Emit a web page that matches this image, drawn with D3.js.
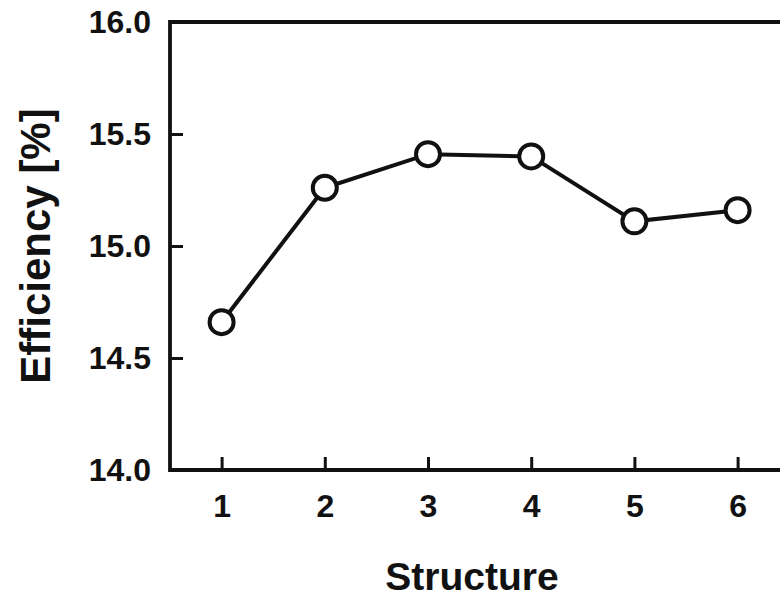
<!DOCTYPE html>
<html>
<head>
<meta charset="utf-8">
<script src="https://cdn.jsdelivr.net/npm/d3@7"></script>
<style>
  html, body { margin: 0; padding: 0; background: #fff; }
  svg { display: block; font-family: "Liberation Sans", Arial, sans-serif; font-weight: bold; }
</style>
</head>
<body>
<svg id="chart" width="780" height="600"></svg>
<script>
// Cell efficiency for each structure variant
const structures = [1, 2, 3, 4, 5, 6];
const efficiency = [14.66, 15.26, 15.41, 15.40, 15.11, 15.16];
const yTicks = [14.0, 14.5, 15.0, 15.5, 16.0];

const svg = d3.select("#chart");
const plotLeft = 170, plotTop = 22, plotBottom = 470;

const x = d3.scaleLinear().domain([0.5, 7.5]).range([plotLeft, plotLeft + 7 * 103.2]);
const y = d3.scaleLinear().domain([14, 16]).range([plotBottom, plotTop]);

// Frame: left, top and bottom edges (plot continues past the right side)
svg.append("path")
  .attr("fill", "none").attr("stroke", "#111").attr("stroke-width", 3.8)
  .attr("stroke-linecap", "square")
  .attr("d", `M${x.range()[1]},${plotTop}H${plotLeft}V${plotBottom}H${x.range()[1]}`);

// Y axis with inward ticks
const yAxis = d3.axisLeft(y).tickValues(yTicks).tickFormat(d3.format(".1f"))
  .tickSizeInner(-13).tickSizeOuter(0).tickPadding(20);
const gy = svg.append("g").attr("transform", `translate(${plotLeft},0)`).call(yAxis);
gy.select(".domain").remove();
gy.selectAll(".tick line").attr("stroke", "#111").attr("stroke-width", 3);
gy.selectAll(".tick text").attr("fill", "#111").attr("font-size", 32).attr("font-weight", "bold")
  .attr("font-family", "Liberation Sans, Arial, sans-serif").attr("x", -19);

// X axis with inward ticks
const xAxis = d3.axisBottom(x).tickValues(structures).tickFormat(d3.format("d"))
  .tickSizeInner(-13).tickSizeOuter(0).tickPadding(0);
const gx = svg.append("g").attr("transform", `translate(0,${plotBottom})`).call(xAxis);
gx.select(".domain").remove();
gx.selectAll(".tick line").attr("stroke", "#111").attr("stroke-width", 3);
gx.selectAll(".tick text").attr("fill", "#111").attr("font-size", 32).attr("font-weight", "bold")
  .attr("font-family", "Liberation Sans, Arial, sans-serif")
  .attr("y", 47).attr("dy", null);

// Data line and open circle markers
const pts = structures.map((s, i) => [s, efficiency[i]]);
svg.append("path")
  .datum(pts)
  .attr("fill", "none").attr("stroke", "#111").attr("stroke-width", 4)
  .attr("d", d3.line().x(d => x(d[0])).y(d => y(d[1])));

svg.append("g").selectAll("circle").data(pts).join("circle")
  .attr("cx", d => x(d[0])).attr("cy", d => y(d[1])).attr("r", 12)
  .attr("fill", "#fff").attr("stroke", "#111").attr("stroke-width", 4);

// Axis titles
svg.append("text")
  .attr("x", 472).attr("y", 590).attr("text-anchor", "middle")
  .attr("font-size", 39).attr("fill", "#111").text("Structure");

svg.append("text")
  .attr("transform", "translate(50,246) rotate(-90)")
  .attr("text-anchor", "middle")
  .attr("font-size", 42).attr("fill", "#111").text("Efficiency [%]");
</script>
</body>
</html>
